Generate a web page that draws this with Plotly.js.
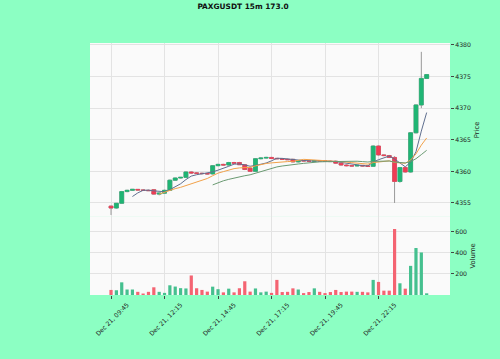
<!DOCTYPE html>
<html><head><meta charset="utf-8">
<script src="https://cdn.plot.ly/plotly-3.0.1.min.js"></script>
<style>html,body{margin:0;padding:0;background:#8cffc3;}</style>
</head><body><div id="chart" style="width:500px;height:359px;"></div>
<script>
const times = [
 "Dec 21, 09:45","Dec 21, 10:00","Dec 21, 10:15","Dec 21, 10:30","Dec 21, 10:45","Dec 21, 11:00","Dec 21, 11:15","Dec 21, 11:30","Dec 21, 11:45","Dec 21, 12:00",
 "Dec 21, 12:15","Dec 21, 12:30","Dec 21, 12:45","Dec 21, 13:00","Dec 21, 13:15","Dec 21, 13:30","Dec 21, 13:45","Dec 21, 14:00","Dec 21, 14:15","Dec 21, 14:30",
 "Dec 21, 14:45","Dec 21, 15:00","Dec 21, 15:15","Dec 21, 15:30","Dec 21, 15:45","Dec 21, 16:00","Dec 21, 16:15","Dec 21, 16:30","Dec 21, 16:45","Dec 21, 17:00",
 "Dec 21, 17:15","Dec 21, 17:30","Dec 21, 17:45","Dec 21, 18:00","Dec 21, 18:15","Dec 21, 18:30","Dec 21, 18:45","Dec 21, 19:00","Dec 21, 19:15","Dec 21, 19:30",
 "Dec 21, 19:45","Dec 21, 20:00","Dec 21, 20:15","Dec 21, 20:30","Dec 21, 20:45","Dec 21, 21:00","Dec 21, 21:15","Dec 21, 21:30","Dec 21, 21:45","Dec 21, 22:00",
 "Dec 21, 22:15","Dec 21, 22:30","Dec 21, 22:45","Dec 21, 23:00","Dec 21, 23:15","Dec 21, 23:30","Dec 21, 23:45","Dec 22, 00:00","Dec 22, 00:15","Dec 22, 00:30"
];
const opens = [
 4354.5,4354.2,4354.95,4356.8,4357.0,4357.15,4357.05,4357.0,4357.1,4356.4,
 4356.55,4357.0,4358.6,4358.95,4359.05,4359.9,4359.75,4359.7,4359.65,4359.6,
 4360.9,4361.1,4361.0,4361.4,4361.4,4361.05,4360.5,4360.0,4362.0,4362.1,
 4362.2,4362.05,4362.0,4361.9,4361.9,4361.5,4361.7,4361.65,4361.6,4361.7,
 4361.65,4361.6,4361.6,4361.3,4361.0,4360.9,4360.85,4360.95,4360.85,4360.8,
 4364.0,4362.6,4362.5,4362.2,4358.4,4360.6,4359.9,4366.1,4370.5,4374.7
];
const highs = [
 4354.6,4355.0,4356.9,4357.1,4357.2,4357.2,4357.1,4357.1,4357.2,4356.6,
 4357.1,4358.7,4359.0,4359.1,4360.0,4360.0,4359.85,4359.8,4359.7,4361.0,
 4361.2,4361.2,4361.5,4361.5,4361.5,4361.1,4360.7,4362.1,4362.2,4362.3,
 4362.3,4362.1,4362.1,4362.0,4362.0,4361.8,4361.8,4361.7,4361.8,4361.75,
 4361.7,4361.7,4361.7,4361.35,4361.1,4361.0,4361.0,4361.0,4360.9,4364.1,
 4364.1,4362.7,4362.6,4362.4,4360.7,4360.7,4366.2,4370.6,4378.9,4375.4
];
const lows = [
 4353.1,4354.1,4354.9,4356.7,4356.9,4357.0,4356.9,4356.9,4356.3,4356.2,
 4356.5,4356.9,4358.5,4358.9,4359.0,4359.6,4359.6,4359.5,4359.5,4359.5,
 4360.8,4360.9,4360.9,4361.2,4361.0,4360.2,4359.9,4359.9,4361.9,4362.0,
 4362.0,4361.9,4361.8,4361.8,4361.4,4361.4,4361.6,4361.5,4361.5,4361.6,
 4361.55,4361.5,4361.2,4360.9,4360.8,4360.8,4360.8,4360.8,4360.7,4360.7,
 4362.5,4362.4,4362.1,4355.0,4358.2,4359.8,4359.8,4366.0,4370.0,4374.6
];
const closes = [
 4354.2,4354.95,4356.8,4357.0,4357.15,4357.05,4357.0,4356.95,4356.4,4356.55,
 4357.0,4358.6,4358.95,4359.05,4359.9,4359.75,4359.7,4359.65,4359.6,4360.9,
 4361.1,4361.0,4361.4,4361.3,4361.05,4360.3,4360.0,4362.0,4362.1,4362.2,
 4362.05,4362.0,4361.9,4361.85,4361.5,4361.7,4361.65,4361.6,4361.7,4361.65,
 4361.6,4361.55,4361.3,4361.0,4360.9,4360.85,4360.95,4360.85,4360.8,4364.0,
 4362.6,4362.5,4362.2,4358.4,4360.6,4359.9,4366.1,4370.5,4374.7,4375.3
];
const volumes = [
 48,45,120,52,52,30,14,30,73,30,
 20,92,80,65,62,185,64,48,32,79,
 55,25,60,25,64,130,32,62,25,32,
 20,143,28,30,63,52,18,28,63,30,
 18,28,48,28,32,32,30,30,25,143,
 124,41,41,625,111,60,276,445,403,16
];
const tickLabels = ["Dec 21, 09:45","Dec 21, 12:15","Dec 21, 14:45","Dec 21, 17:15","Dec 21, 19:45","Dec 21, 22:15"];
const mavPeriods = [5,10,20];
const mavColors = ['#5f6f8f','#f2a24a','#6a9a72'];

const UP = '#1fb574', DOWN = '#f03c55';
const bodyHigh = opens.map((o,i)=>Math.max(o,closes[i]));
const bodyLow = opens.map((o,i)=>Math.min(o,closes[i]));
const volColors = closes.map((c,i)=> c>=opens[i] ? '#45c08f' : '#f46472');

const traces = [];
traces.push({
  type:'candlestick', x:times, open:opens, high:highs, low:lows, close:closes,
  increasing:{line:{color:'#999999',width:1},fillcolor:'#999999'},
  decreasing:{line:{color:'#999999',width:1},fillcolor:'#999999'},
  hoverinfo:'skip', xaxis:'x', yaxis:'y'
});
traces.push({
  type:'candlestick', x:times, open:opens, high:bodyHigh, low:bodyLow, close:closes,
  increasing:{line:{color:UP,width:0.6},fillcolor:UP},
  decreasing:{line:{color:DOWN,width:0.6},fillcolor:DOWN},
  hoverinfo:'skip', xaxis:'x', yaxis:'y'
});
mavPeriods.forEach((p,k)=>{
  const y = closes.map((c,i)=>{
    if(i<p-1) return null;
    let s=0; for(let j=i-p+1;j<=i;j++) s+=closes[j];
    return s/p;
  });
  traces.push({type:'scatter',mode:'lines',x:times,y:y,line:{color:mavColors[k],width:1},hoverinfo:'skip',xaxis:'x',yaxis:'y'});
});
traces.push({type:'bar',x:times,y:volumes,marker:{color:volColors,line:{width:0}},hoverinfo:'skip',xaxis:'x',yaxis:'y2'});

const tickFont = {family:'DejaVu Sans', size:6.2, color:'#222'};
const layout = {
  width:500, height:359,
  paper_bgcolor:'#8cffc3', plot_bgcolor:'#fafafa',
  margin:{l:90,r:50,t:43,b:64},
  showlegend:false,
  boxmode:'overlay', boxgap:0.27, boxgroupgap:0,
  bargap:0.4,
  title:{text:'<b>PAXGUSDT 15m 173.0</b>', font:{family:'DejaVu Sans', size:7.4, color:'#111'},
         x:0.486, xanchor:'center', xref:'container', y:0.981, yanchor:'middle', yref:'container'},
  xaxis:{type:'category', range:[-3.93,63.36], anchor:'y2', rangeslider:{visible:false},
         tickvals:tickLabels, ticktext:tickLabels, tickangle:-45, tickfont:tickFont,
         ticks:'outside', ticklen:3, tickcolor:'#444', ticklabelshift:16,
         showgrid:true, gridcolor:'#e3e3e3', gridwidth:1, zeroline:false, showline:false, fixedrange:true},
  yaxis:{domain:[0.31,1], range:[4352.8,4380.3], side:'right', anchor:'x',
         tickvals:[4355,4360,4365,4370,4375,4380], tickfont:tickFont,
         ticks:'outside', ticklen:3, tickcolor:'#444',
         showgrid:true, gridcolor:'#e3e3e3', zeroline:false, showline:false,
         title:{text:'Price', font:{family:'DejaVu Sans', size:6.8, color:'#222'}, standoff:4}},
  yaxis2:{domain:[0,0.31], range:[0,740], side:'right', anchor:'x',
         tickvals:[200,400,600], tickfont:tickFont,
         ticks:'outside', ticklen:3, tickcolor:'#444',
         showgrid:true, gridcolor:'#e3e3e3', zeroline:false, showline:false,
         title:{text:'Volume', font:{family:'DejaVu Sans', size:6.8, color:'#222'}, standoff:4}}
};
Plotly.newPlot('chart', traces, layout, {displayModeBar:false, staticPlot:true});
</script>
</body></html>
